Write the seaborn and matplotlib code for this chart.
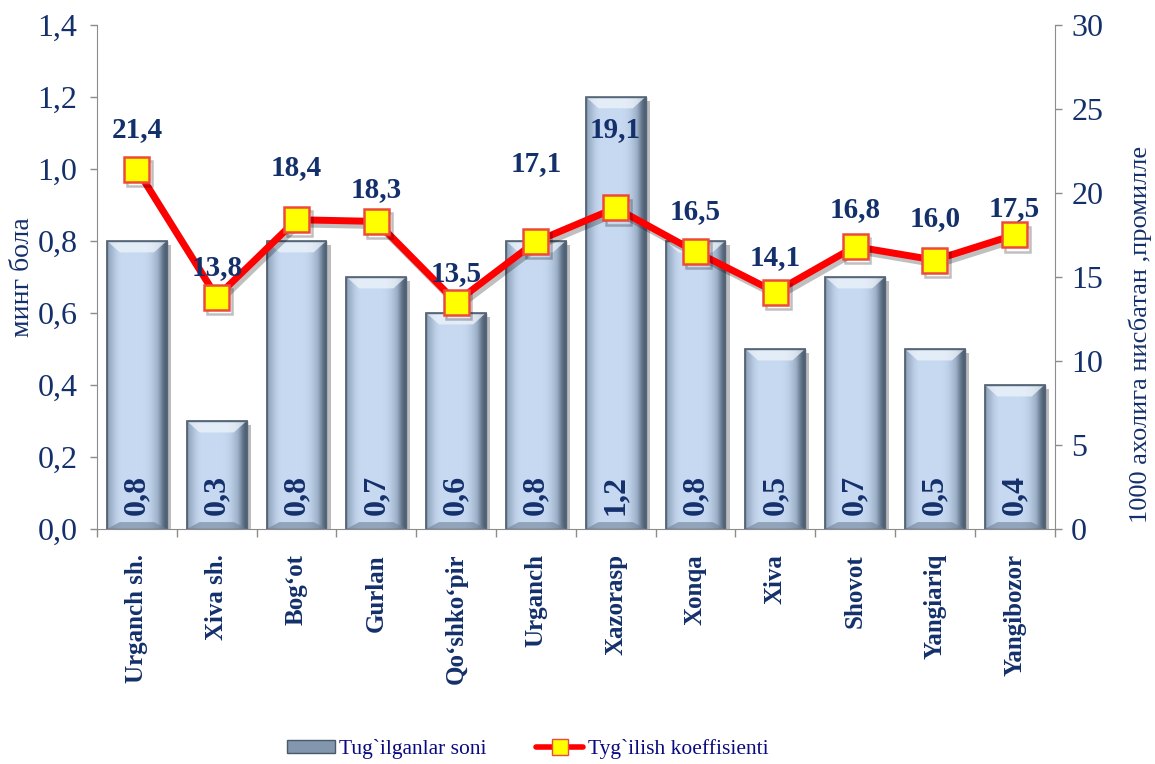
import numpy as np
import pandas as pd
import matplotlib
matplotlib.use('Agg')
import matplotlib.pyplot as plt
import matplotlib.patheffects as pe
from matplotlib.lines import Line2D
from matplotlib.patches import Patch, Polygon
import seaborn as sns

# 데이터
districts = ['Urganch sh.', 'Xiva sh.', 'Bogʻot', 'Gurlan', 'Qoʻshkoʻpir', 'Urganch',
             'Xazorasp', 'Xonqa', 'Xiva', 'Shovot', 'Yangiariq', 'Yangibozor']
births = [0.8, 0.3, 0.8, 0.7, 0.6, 0.8, 1.2, 0.8, 0.5, 0.7, 0.5, 0.4]
birth_rate = [21.4, 13.8, 18.4, 18.3, 13.5, 17.1, 19.1, 16.5, 14.1, 16.8, 16.0, 17.5]

# 라벨 위치 (마커 위 픽셀)
label_dy = [40, 29, 52, 32, 29, 78, 78, 40, 34, 37, 42, 26]

df = pd.DataFrame({'district': districts, 'births': births, 'rate': birth_rate})

sns.set_style('white')
plt.rcParams['font.family'] = ['Liberation Serif', 'DejaVu Serif']
navy = '#14306B'
grey = '#8C8C8C'

fig = plt.figure(figsize=(11.55, 7.64), dpi=100)
ax = fig.add_axes([0.084, 0.3076, 0.829, 0.660])

sns.barplot(data=df, x='district', y='births', color='#C6D9F0', width=0.75,
            edgecolor='#4A5867', linewidth=1.2, ax=ax, zorder=2)

# 막대 그라데이션 + 베벨 + 그림자
grad = np.array([[0.1, 0.35, 0.5, 0.5, 0.5, 0.5, 0.5, 0.5, 0.45, 0.3, 0.1, -0.2]])
cmap = matplotlib.colors.LinearSegmentedColormap.from_list(
    'bevel', ['#4C5D70', '#9AAEC6', '#C6D9F0'])
bx, by = 0.16, 0.032
for p in ax.patches:
    x0, y0 = p.get_x(), p.get_y()
    w, h = p.get_width(), p.get_height()
    p.set_path_effects([pe.SimplePatchShadow(offset=(3, -3), alpha=0.35), pe.Normal()])
    im = ax.imshow(grad, extent=[x0, x0 + w, y0, y0 + h], aspect='auto', cmap=cmap,
                   vmin=-0.2, vmax=0.5, zorder=2.1, interpolation='bicubic')
    im.set_clip_path(p)
    top = Polygon([(x0, y0 + h), (x0 + w, y0 + h), (x0 + w - bx, y0 + h - by), (x0 + bx, y0 + h - by)],
                  closed=True, facecolor='#EEF4FB', alpha=0.75, edgecolor='none', zorder=2.15)
    bot = Polygon([(x0, y0), (x0 + w, y0), (x0 + w - bx, y0 + by * 0.6), (x0 + bx, y0 + by * 0.6)],
                  closed=True, facecolor='#6F8196', alpha=0.6, edgecolor='none', zorder=2.15)
    ax.add_patch(top)
    ax.add_patch(bot)
    ax.add_patch(plt.Rectangle((x0, y0), w, h, fill=False, edgecolor='#56667A',
                               linewidth=1.0, zorder=2.2))
    ax.text(x0 + w / 2, 0.04, f"{h:.1f}".replace('.', ','), rotation=90,
            ha='center', va='bottom', fontsize=23, fontweight='bold', color=navy, zorder=5)

ax.set_xlim(-0.5, len(districts) - 0.5)
ax.set_ylim(0, 1.4)
ax.set_yticks(np.arange(0, 1.41, 0.2))
ax.set_yticklabels([f"{v:.1f}".replace('.', ',') for v in np.arange(0, 1.41, 0.2)])
ax.set_ylabel('минг бола', fontsize=20, color=navy, labelpad=2)
ax.set_xlabel('')
ax.tick_params(axis='y', colors=grey, labelcolor=navy, labelsize=23, direction='out',
               length=5, width=1, left=True, pad=9)
ax.set_xticks(range(len(districts)))
ax.set_xticklabels(districts, rotation=90, fontsize=18, fontweight='bold', color=navy)
ax.tick_params(axis='x', which='major', length=0, pad=18)
ax.set_xticks(np.arange(-0.5, len(districts)), minor=True)
ax.tick_params(axis='x', which='minor', length=6, width=1, colors=grey, direction='out', bottom=True)
for s in ['left', 'bottom']:
    ax.spines[s].set_color(grey)
ax.spines['top'].set_visible(False)
ax.spines['right'].set_visible(False)

# 출생률 선
ax2 = ax.twinx()
sns.pointplot(data=df, x='district', y='rate', color='red', markers='s',
              linestyles='-', ax=ax2, zorder=4)
for ln in ax2.lines:
    ln.set_linewidth(5)
    ln.set_markersize(18)
    ln.set_markerfacecolor('#FFFF00')
    ln.set_markeredgecolor('#EE4A3C')
    ln.set_markeredgewidth(1.8)
    ln.set_path_effects([pe.SimpleLineShadow(offset=(2, -3), alpha=0.25), pe.Normal()])
ax2.set_ylim(0, 30)
ax2.set_yticks(range(0, 31, 5))
ax2.set_ylabel('1000 ахолига нисбатан ,промилле', fontsize=19, color=navy)
ax2.yaxis.label.set_horizontalalignment('center')
ax2.yaxis.label.set_verticalalignment('center')
ax2.yaxis.set_label_coords(1.09, 0.385)
ax2.set_xlabel('')
ax2.tick_params(axis='y', colors=grey, labelcolor=navy, labelsize=23, direction='out',
                length=5, width=1, right=True, pad=7)
for s in ['top', 'left', 'bottom']:
    ax2.spines[s].set_visible(False)
ax2.spines['right'].set_color(grey)
ax2.set_xlim(-0.5, len(districts) - 0.5)

for i, (v, dy) in enumerate(zip(birth_rate, label_dy)):
    ax2.annotate(f"{v:.1f}".replace('.', ','), (i, v), xytext=(0, dy * 0.72),
                 textcoords='offset points', ha='center', va='center',
                 fontsize=21, fontweight='bold', color=navy, zorder=6)

# 범례
handles = [Patch(facecolor='#8296AE', edgecolor='#4A5867', label='Tug`ilganlar soni'),
           Line2D([0], [0], color='red', lw=4, marker='s', markersize=11,
                  markerfacecolor='#FFFF00', markeredgecolor='#EE4A3C',
                  label='Tyg`ilish koeffisienti')]
fig.legend(handles=handles, loc='center', bbox_to_anchor=(0.457, 0.02), ncol=2,
           frameon=False, fontsize=15.5, labelcolor='#0A0A80', handlelength=2.2,
           handleheight=0.55, columnspacing=2.3, handletextpad=0.2)

plt.savefig('out.png', dpi=100)
